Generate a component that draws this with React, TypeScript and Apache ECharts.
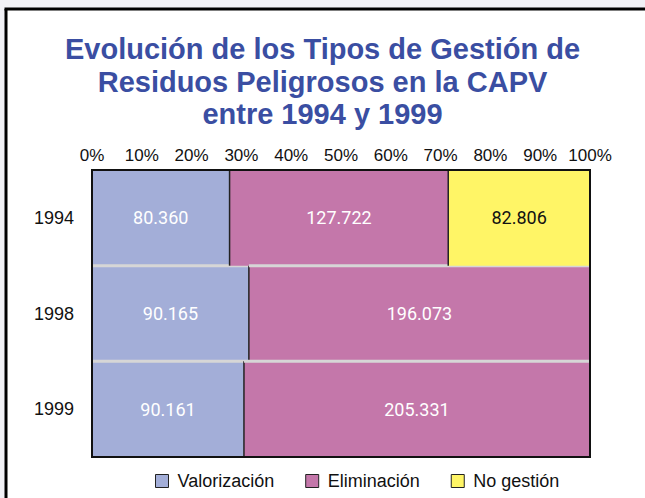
import React, { useEffect, useRef } from "react";
import * as echarts from "echarts";

const years = ["1994", "1998", "1999"];
const seriesNames = ["Valorización", "Eliminación", "No gestión"];
const valorizacion = [80360, 90165, 90161];
const eliminacion = [127722, 196073, 205331];
const noGestion = [82806, 0, 0];
const percentTicks = [0, 10, 20, 30, 40, 50, 60, 70, 80, 90, 100];

const colors = ["#a3aed8", "#c477aa", "#fff566"];
const labelColors = ["#ffffff", "#ffffff", "#111111"];

const fmt = (v: number) => {
  const s = String(Math.round(v));
  return s.replace(/\B(?=(\d{3})+(?!\d))/g, ".");
};

const GRID = { left: 92, top: 170, width: 498, height: 287 };

export default function App() {
  const ref = useRef<HTMLDivElement>(null);
  useEffect(() => {
    if (!ref.current) return;
    document.body.style.margin = "0";
    document.body.style.overflow = "hidden";
    document.documentElement.style.overflow = "hidden";
    const chart = echarts.init(ref.current, undefined, { renderer: "svg" });
    const all = [valorizacion, eliminacion, noGestion];
    const totals = years.map((_, i) => all.reduce((a, s) => a + s[i], 0));
    const seriesData = all.map((arr, si) =>
      arr.map((v, i) => {
        let start = 0;
        for (let k = 0; k < si; k++) start += (all[k][i] / totals[i]) * 100;
        const end = start + (v / totals[i]) * 100;
        return [start, end, i, v];
      }).filter((d) => d[3] > 0)
    );

    const renderItem = (si: number) => (params: any, api: any) => {
      const s = api.value(0);
      const e = api.value(1);
      const idx = api.value(2);
      const raw = api.value(3);
      const p0 = api.coord([s, idx]);
      const p1 = api.coord([e, idx]);
      const h = api.size([0, 1])[1];
      const y0 = p0[1] - h / 2;
      const children: any[] = [
        {
          type: "rect",
          shape: { x: p0[0], y: y0, width: p1[0] - p0[0], height: h },
          style: { fill: colors[si] },
        },
        {
          type: "text",
          style: {
            x: (p0[0] + p1[0]) / 2,
            y: p0[1],
            text: fmt(raw),
            fill: labelColors[si],
            font: "18px Roboto, 'Liberation Sans', sans-serif",
            align: "center",
            verticalAlign: "middle",
          },
        },
      ];
      if (s > 0.001) {
        children.push({
          type: "line",
          shape: { x1: p0[0], y1: y0, x2: p0[0], y2: y0 + h },
          style: { stroke: "#222222", lineWidth: 1.5 },
        });
      }
      if (idx > 0) {
        children.push({
          type: "line",
          shape: { x1: p0[0], y1: y0, x2: p1[0], y2: y0 },
          style: { stroke: "#d6d6d6", lineWidth: 3 },
        });
      }
      return { type: "group", children };
    };

    chart.setOption({
      animation: false,
      backgroundColor: "#f1f1f6",
      graphic: [
        {
          type: "rect",
          z: -10,
          shape: { x: 6, y: 9, width: 639, height: 489 },
          style: { fill: "#ffffff" },
        },
        {
          type: "line",
          z: -9,
          shape: { x1: 4.5, y1: 9, x2: 645, y2: 9 },
          style: { stroke: "#000000", lineWidth: 3 },
        },
        {
          type: "line",
          z: -9,
          shape: { x1: 6, y1: 9, x2: 6, y2: 498 },
          style: { stroke: "#000000", lineWidth: 3 },
        },
        {
          type: "rect",
          z: 100,
          shape: { x: GRID.left, y: GRID.top, width: GRID.width, height: GRID.height },
          style: { fill: "none", stroke: "#111111", lineWidth: 2 },
        },
      ],
      title: {
        text: "Evolución de los Tipos de Gestión de\nResiduos Peligrosos en la CAPV\nentre 1994 y 1999",
        left: "center",
        top: 28,
        textStyle: {
          fontFamily: "'Liberation Sans', Arial, sans-serif",
          fontSize: 29,
          fontWeight: "bold",
          color: "#3a4ea2",
          lineHeight: 32.5,
          align: "center",
        },
      },
      legend: {
        top: 467,
        left: 150,
        icon: "rect",
        itemWidth: 13,
        itemHeight: 13,
        itemGap: 31,
        data: seriesNames,
        itemStyle: { borderColor: "#222", borderWidth: 1 },
        textStyle: {
          fontSize: 18,
          color: "#111",
          fontFamily: "'Liberation Sans', Arial, sans-serif",
          padding: [0, 0, 0, 4],
        },
      },
      grid: { ...GRID },
      xAxis: {
        type: "value",
        position: "top",
        min: 0,
        max: 100,
        interval: 10,
        axisLine: { show: false },
        axisTick: { show: false },
        splitLine: { show: false },
        axisLabel: {
          formatter: (v: number) => (percentTicks.includes(v) ? v + "%" : ""),
          fontSize: 17,
          color: "#111",
          margin: 6,
          fontFamily: "'Liberation Sans', Arial, sans-serif",
        },
      },
      yAxis: {
        type: "category",
        data: years,
        inverse: true,
        axisLine: { show: false },
        axisTick: { show: false },
        axisLabel: {
          fontSize: 18,
          color: "#111",
          margin: 18,
          fontFamily: "'Liberation Sans', Arial, sans-serif",
        },
      },
      series: seriesNames.map((name, si) => ({
        type: "custom",
        name,
        itemStyle: { color: colors[si] },
        encode: { x: [0, 1], y: 2 },
        renderItem: renderItem(si),
        data: seriesData[si],
      })),
    });
    return () => chart.dispose();
  }, []);
  return (
    <div
      ref={ref}
      style={{ position: "fixed", left: 0, top: 0, width: 645, height: 498, overflow: "hidden" }}
    />
  );
}
